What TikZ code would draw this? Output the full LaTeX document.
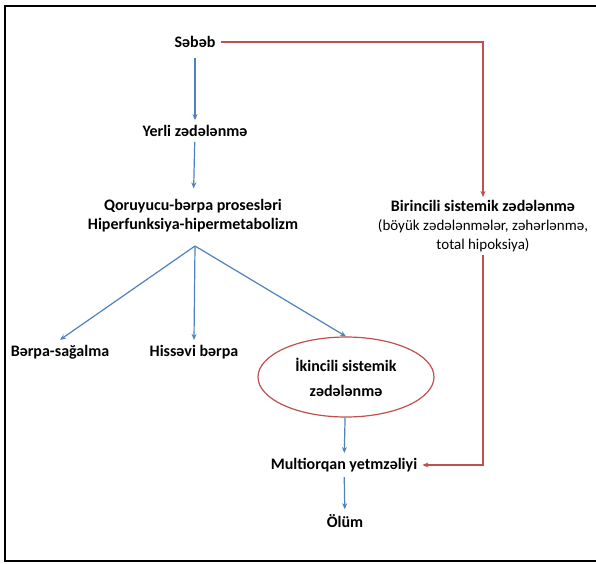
\documentclass[tikz,border=0pt]{standalone}
\usepackage{fontspec}
\setmainfont{Carlito}
\usetikzlibrary{arrows.meta,shapes.geometric}
\definecolor{arrowblue}{RGB}{79,129,189}
\definecolor{arrowred}{RGB}{192,80,77}
\begin{document}
\begin{tikzpicture}[x=1pt,y=-1pt,
  lbl/.style={font=\bfseries\fontsize{16}{19}\selectfont,inner sep=5pt},
  bluearrow/.style={draw=arrowblue,line width=1.2pt,-{Stealth[length=6pt,width=5pt]}},
  redarrow/.style={draw=arrowred,line width=1.2pt,-{Stealth[length=6pt,width=5pt]}}]
  \useasboundingbox (0,0) rectangle (596,563);
  \draw [line width=2.5pt] (620,6)--(5,6)--(5,561)--(620,561);

  \node [lbl] (sabab) at (195,42) {Səbəb};
  \node [lbl] (yerli) at (195,131) {Yerli zədələnmə};
  \node [lbl,align=center] (qoruyucu) at (193,216) {Qoruyucu-bərpa prosesləri\\Hiperfunksiya-hipermetabolizm};
  \coordinate (fan) at (195,246);
  \node [lbl] (barpa) at (60,352) {Bərpa-sağalma};
  \node [lbl] (hissavi) at (194,352) {Hissəvi bərpa};
  \node [lbl,ellipse,draw=arrowred,line width=1.2pt,align=center,minimum width=176pt,minimum height=80pt,inner sep=0pt] (ikinci) at (346,377) {İkincili sistemik\\[6pt]zədələnmə};
  \node [lbl,align=center,inner sep=3pt] (birinci) at (483,226) {Birincili sistemik zədələnmə\\{\mdseries\fontsize{15}{19}\selectfont (böyük zədələnmələr, zəhərlənmə,}\\{\mdseries\fontsize{15}{19}\selectfont total hipoksiya)}};
  \node [lbl] (multi) at (344,465) {Multiorqan yetmzəliyi};
  \node [lbl] (olum) at (345,521) {Ölüm};

  % blue path
  \draw [bluearrow] [shorten <=5pt] (sabab)--(yerli);
  \draw [bluearrow] [shorten >=6pt] (yerli)--(qoruyucu);
  \draw [bluearrow] (fan)--(barpa.north);
  \draw [bluearrow] (fan)--(hissavi.north);
  \draw [bluearrow] (fan)--(ikinci.north);
  \draw [bluearrow] (ikinci)--(multi);
  \draw [bluearrow] (multi)--(olum);

  % red path
  \draw [redarrow] (sabab.east)-|(birinci.north);
  \draw [redarrow] (birinci.south)|-(multi.east);
\end{tikzpicture}
\end{document}
